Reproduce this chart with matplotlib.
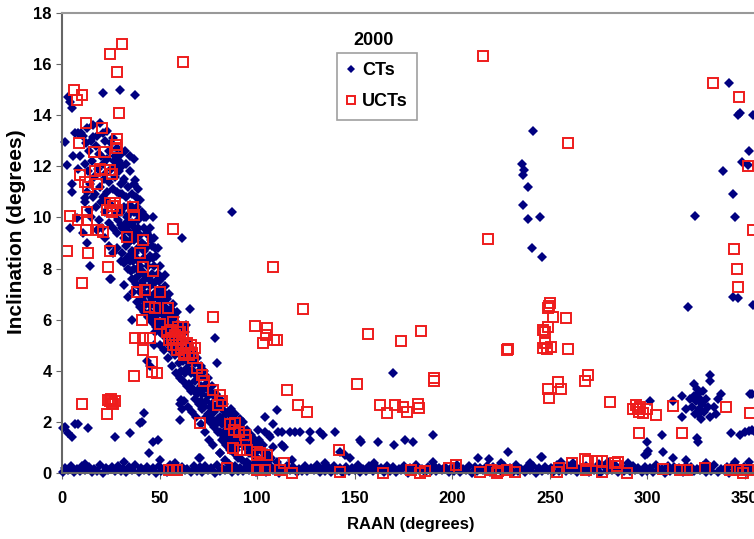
import numpy as np
import matplotlib
matplotlib.use('Agg')
import matplotlib.pyplot as plt

plt.rcParams['font.family'] = ['Liberation Sans', 'DejaVu Sans']
plt.rcParams['font.weight'] = 'bold'

# CTs: the diagonal band (RAAN, inclination)
ct_band = [
    (11, 13.2), (12.5, 12.9), (13, 13.5), (14, 12.6), (15, 13.0), (16, 13.15), (16, 13.6), (17.5, 12.8),
    (18, 13.2), (19.5, 13.7), (19, 12.5), (12, 12.1), (13.5, 11.8), (14.5, 11.3), (15.5, 12.2), (16.5, 11.6),
    (17, 10.9), (18.5, 11.9), (19.5, 11.2), (20, 12.4), (12, 10.6), (13, 11.0), (14, 10.3), (15, 10.0),
    (16, 10.8), (17.5, 10.4), (18, 9.5), (19, 9.9), (20, 10.6), (14.4, 8.1), (11, 9.4), (13, 9.0),
    (21, 13.3), (22, 13.0), (23, 13.4), (24, 12.6), (25, 12.9), (26, 13.1), (27, 12.4), (28, 12.7),
    (29, 12.2), (30, 12.5), (21, 12.1), (22, 11.7), (23, 12.3), (24, 11.4), (25, 11.9), (26, 11.1),
    (27, 11.6), (28, 11.0), (29, 11.8), (30, 11.3), (21, 10.8), (22, 10.2), (23, 11.0), (24, 9.8),
    (25, 10.5), (26, 9.6), (27, 10.1), (28, 9.4), (29, 10.3), (30, 9.7), (22, 9.2), (24, 8.9),
    (26, 8.6), (28, 8.8), (30, 8.3), (25, 7.6), (24.6, 7.6), (21.5, 11.5), (27.5, 12.0), (29.5, 10.9),
    (23.5, 10.6), (26.5, 12.2), (20.5, 9.6), (28.5, 9.9),
    (31, 12.0), (32, 11.5), (33, 12.1), (34, 11.2), (35, 11.8), (36, 10.9), (37, 12.3), (37.4, 11.45),
    (38, 10.8), (39, 11.1), (40, 10.7), (31, 10.9), (32, 10.4), (33, 10.8), (34, 10.1), (35, 10.5),
    (36, 9.8), (37, 10.2), (38, 9.5), (39, 9.9), (40, 9.3), (31, 9.6), (32, 9.2), (33, 9.8),
    (34, 9.0), (35, 9.4), (36, 8.7), (37, 9.1), (38, 8.4), (39, 8.8), (40, 8.1), (31, 8.6),
    (32, 8.2), (33, 8.9), (34, 8.0), (35, 8.3), (36, 7.6), (37, 8.0), (38, 7.4), (39, 7.7),
    (40, 7.1), (32, 7.35), (34, 6.9), (35.8, 6.0), (36.5, 7.1), (38.5, 6.7), (40, 6.5), (33.5, 10.0),
    (34.5, 8.5), (35.5, 9.1), (36.5, 10.3), (37.5, 8.6), (38.5, 9.2), (39.5, 10.1), (30.5, 10.2), (31.5, 11.4),
    (32.5, 9.5), (33.5, 8.4), (34.5, 9.7), (35.5, 7.9), (36.5, 8.3), (37.5, 9.6), (38.5, 8.0), (39.5, 7.3),
    (32.5, 12.6), (35, 12.4), (36.2, 9.3), (37.2, 7.6), (38.2, 10.4), (39.2, 8.3), (36.8, 11.3), (38.8, 9.6),
    (41, 10.2), (42, 9.6), (43, 10.0), (44, 9.3), (45, 9.6), (46, 8.9), (46.6, 10.0), (47, 9.2),
    (48, 8.5), (49, 8.8), (50, 8.1), (41, 9.0), (42, 8.4), (43, 8.8), (44, 8.1), (45, 8.5),
    (46, 7.8), (47, 8.1), (48, 7.5), (49, 7.8), (50, 7.2), (41, 7.9), (42, 7.3), (43, 7.7),
    (44, 7.0), (45, 7.3), (46, 6.8), (47, 7.0), (48, 6.5), (49, 6.8), (50, 6.3), (41, 6.8),
    (42, 6.3), (43, 6.6), (44, 6.1), (45, 6.3), (46, 5.9), (47, 6.1), (48, 5.7), (49, 5.9),
    (50, 5.5), (42.5, 8.9), (44.5, 7.6), (46.5, 8.4), (48.5, 7.1), (45.5, 6.6), (47.5, 5.5), (49.5, 6.4),
    (41.5, 7.5), (43.5, 9.4), (43.5, 4.4), (45, 4.2), (47, 5.0), (50, 5.0), (41.8, 8.7), (42.8, 7.0),
    (43.8, 8.3), (44.8, 6.6), (45.8, 9.1), (46.8, 7.4), (47.8, 8.8), (48.8, 6.2), (49.8, 7.5), (42.2, 10.0),
    (51, 7.6), (52, 7.1), (52.8, 7.75), (53, 7.3), (54, 6.8), (55, 7.0), (56, 6.4), (57, 6.6),
    (58, 6.1), (59, 6.3), (60, 5.8), (51, 6.7), (52, 6.2), (53, 6.5), (54, 5.9), (55, 6.1),
    (56, 5.6), (57, 5.8), (58, 5.3), (59, 5.5), (60, 5.0), (51, 5.8), (52, 5.4), (53, 5.6),
    (54, 5.1), (55, 5.3), (56, 4.8), (57, 5.0), (58, 4.6), (59, 4.8), (60, 4.3), (52.5, 4.8),
    (54.5, 4.5), (56.5, 4.2), (58.5, 3.9), (55.5, 5.9), (57.5, 6.2), (59.5, 5.2), (61.5, 9.2), (60.5, 3.7),
    (51.5, 7.0), (52.5, 6.0), (53.5, 6.9), (54.5, 6.3), (55.5, 5.0), (56.5, 6.0), (57.5, 5.3), (58.5, 5.7),
    (61, 5.6), (62, 5.2), (63, 5.5), (64, 4.9), (65, 5.1), (65.6, 6.4), (66, 4.6), (67, 4.8),
    (68, 4.3), (69, 4.5), (70, 4.0), (61, 4.7), (62, 4.4), (63, 4.6), (64, 4.1), (65, 4.3),
    (66, 3.9), (67, 4.0), (68, 3.6), (69, 3.8), (70, 3.3), (61, 4.0), (62, 3.6), (63, 3.9),
    (64, 3.4), (65, 3.5), (66, 3.2), (67, 3.3), (68, 2.9), (69, 3.1), (70, 2.7), (62.5, 2.8),
    (64.5, 2.6), (66.5, 2.4), (68.5, 2.2), (61.5, 2.5), (63.5, 5.8),
    (71, 4.2), (72, 3.8), (73, 4.0), (74, 3.5), (75, 3.7), (76, 3.2), (77, 3.4), (78, 3.0),
    (79, 3.1), (80, 2.7), (71, 3.4), (72, 3.1), (73, 3.3), (74, 2.8), (75, 3.0), (76, 2.6),
    (77, 2.7), (78, 2.4), (79, 2.5), (80, 2.1), (71, 2.8), (72, 2.5), (73, 2.6), (74, 2.2),
    (75, 2.3), (76, 2.0), (77, 2.1), (78, 1.8), (79, 1.9), (80, 1.6), (78.4, 5.3), (79.4, 4.3),
    (73.5, 1.6), (75.5, 1.3), (77.5, 1.1), (71.5, 1.9),
    (81, 2.9), (82, 2.5), (83, 2.7), (84, 2.3), (85, 2.4), (86, 2.0), (87, 2.2), (88, 1.8),
    (89, 2.0), (90, 1.6), (81, 2.2), (82, 1.9), (83, 2.0), (84, 1.7), (85, 1.8), (86, 1.5),
    (87, 1.6), (88, 1.3), (89, 1.4), (90, 1.1), (81, 1.6), (82, 1.3), (83, 1.4), (84, 1.1),
    (85, 1.2), (86, 0.9), (87, 1.0), (88, 0.8), (89, 0.9), (90, 0.6), (81, 0.78), (83.5, 0.5),
    (85.5, 0.35), (88.5, 2.3), (86.5, 2.5),
    (91, 2.1), (92, 1.8), (93, 2.0), (94, 1.6), (95, 1.7), (96, 1.4), (97, 1.5), (98, 1.2),
    (99, 1.3), (100, 1.0), (91, 1.4), (92, 1.2), (93, 1.3), (94, 1.0), (95, 1.1), (96, 0.8),
    (97, 0.9), (98, 0.7), (99, 0.8), (100, 0.6), (101, 1.3), (102, 0.9), (103, 1.1), (104, 0.7),
    (105, 0.8), (106, 0.5), (107, 0.6), (101, 0.5), (103, 0.4), (105, 0.3), (92.5, 0.5), (94.5, 0.4),
    (96.5, 0.3), (98.5, 0.35), (100.5, 1.7), (104, 1.6), (106.5, 1.4), (108, 1.0),
]

# CTs: the near-equatorial floor, two rows
floor1_x = [0.4, 3.1, 6.3, 9.0, 11.8, 15.2, 18.1, 21.0, 23.7, 27.1, 30.2, 32.9, 36.0, 39.3, 42.1, 44.8,
            48.2, 51.0, 53.9, 57.1, 60.0, 62.8, 66.1, 69.2, 71.9, 75.0, 78.3, 81.1, 83.8, 87.2, 90.1, 92.9,
            96.0, 99.3, 102.0, 104.8, 108.1, 111.2, 113.9, 117.0, 120.3, 123.1, 125.8, 129.2, 132.0, 134.9,
            138.1, 141.0, 143.8, 147.2, 150.1, 152.9, 156.0, 159.3, 162.1, 164.8, 168.2, 171.0, 173.9, 177.1,
            180.0, 182.8, 186.1, 189.2, 191.9, 195.0, 198.3, 201.1, 203.8, 207.2, 210.1, 212.9, 216.0, 219.3,
            222.1, 224.8, 228.2, 231.0, 233.9, 237.1, 240.0, 242.8, 246.1, 249.2, 251.9, 255.0, 258.3, 261.1,
            263.8, 267.2, 270.1, 272.9, 276.0, 279.3, 282.1, 284.8, 288.2, 291.0, 293.9, 297.1, 300.0, 302.8,
            306.1, 309.2, 311.9, 315.0, 318.3, 321.1, 323.8, 327.2, 330.1, 332.9, 336.0, 339.3, 342.1, 344.8,
            348.2, 351.0, 353.9]
floor1_y = [0.05, 0.10, 0.03, 0.08, 0.12, 0.04, 0.09, 0.02, 0.11, 0.06,
            0.08, 0.03, 0.10, 0.05, 0.12, 0.07, 0.02, 0.09, 0.04, 0.11,
            0.06, 0.10, 0.03, 0.08, 0.05, 0.12, 0.02, 0.07, 0.10, 0.04,
            0.09, 0.06, 0.11, 0.03, 0.08, 0.05, 0.10, 0.02, 0.07, 0.12,
            0.04, 0.09, 0.06, 0.11, 0.03, 0.08, 0.05, 0.10, 0.02, 0.07,
            0.12, 0.04, 0.09, 0.06, 0.11, 0.03, 0.08, 0.05, 0.10, 0.02,
            0.07, 0.12, 0.04, 0.09, 0.06, 0.11, 0.03, 0.08, 0.05, 0.10,
            0.02, 0.07, 0.12, 0.04, 0.09, 0.06, 0.11, 0.03, 0.08, 0.05,
            0.10, 0.02, 0.07, 0.12, 0.04, 0.09, 0.06, 0.11, 0.03, 0.08,
            0.05, 0.10, 0.02, 0.07, 0.12, 0.04, 0.09, 0.06, 0.11, 0.03,
            0.08, 0.05, 0.10, 0.02, 0.07, 0.12, 0.04, 0.09, 0.06, 0.11,
            0.03, 0.08, 0.05, 0.10, 0.02, 0.07, 0.12, 0.04, 0.09]
floor2_x = [1.7, 4.6, 7.5, 10.4, 13.6, 16.5, 19.6, 22.4, 25.5, 28.6,
            31.5, 34.4, 37.6, 40.7, 43.5, 46.4, 49.6, 52.5, 55.4, 58.6,
            61.5, 64.3, 67.6, 70.5, 73.4, 76.6, 79.7, 82.5, 85.4, 88.6,
            91.5, 94.4, 97.6, 100.7, 103.5, 106.4, 109.6, 112.5, 115.4, 118.6,
            121.5, 124.4, 127.6, 130.7, 133.5, 136.4, 139.6, 142.5, 145.4, 148.6,
            151.5, 154.4, 157.6, 160.7, 163.5, 166.4, 169.6, 172.5, 175.4, 178.6,
            181.5, 184.4, 187.6, 190.7, 193.5, 196.4, 199.6, 202.5, 205.4, 208.6,
            211.5, 214.4, 217.6, 220.7, 223.5, 226.4, 229.6, 232.5, 235.4, 238.6,
            241.5, 244.4, 247.6, 250.7, 253.5, 256.4, 259.6, 262.5, 265.4, 268.6,
            271.5, 274.4, 277.6, 280.7, 283.5, 286.4, 289.6, 292.5, 295.4, 298.6,
            301.5, 304.4, 307.6, 310.7, 313.5, 316.4, 319.6, 322.5, 325.4, 328.6,
            331.5, 334.4, 337.6, 340.7, 343.5, 346.4, 349.6, 352.5]
floor2_y = [0.20, 0.26, 0.17, 0.29, 0.22, 0.15, 0.31, 0.19, 0.24, 0.28,
            0.16, 0.23, 0.30, 0.18, 0.25, 0.21, 0.27, 0.15, 0.32, 0.20,
            0.24, 0.17, 0.29, 0.22, 0.26, 0.19, 0.31, 0.16, 0.23, 0.28,
            0.21, 0.25, 0.18, 0.30, 0.15, 0.27, 0.22, 0.19, 0.26, 0.24,
            0.17, 0.29, 0.20, 0.32, 0.16, 0.23, 0.28, 0.21, 0.25, 0.18,
            0.30, 0.15, 0.27, 0.22, 0.19, 0.26, 0.24, 0.17, 0.29, 0.20,
            0.32, 0.16, 0.23, 0.28, 0.21, 0.25, 0.18, 0.30, 0.15, 0.27,
            0.22, 0.19, 0.26, 0.24, 0.17, 0.29, 0.20, 0.32, 0.16, 0.23,
            0.28, 0.21, 0.25, 0.18, 0.30, 0.15, 0.27, 0.22, 0.19, 0.26,
            0.24, 0.17, 0.29, 0.20, 0.32, 0.16, 0.23, 0.28, 0.21, 0.25,
            0.18, 0.30, 0.15, 0.27, 0.22, 0.19, 0.26, 0.24, 0.17, 0.29,
            0.20, 0.32, 0.16, 0.23, 0.28, 0.21, 0.25, 0.18]

# CTs: everything else
ct_other = [
    (12, 0.35), (32, 0.43), (50, 0.5), (58, 0.4), (70, 0.6), (81, 0.78), (95, 0.42), (110, 0.45),
    (118, 0.5), (135, 0.4), (142.5, 0.82), (145, 0.7), (147.6, 0.6), (160, 0.38), (190, 0.42), (213, 0.6),
    (219, 0.55), (225, 0.4), (228.6, 0.82), (240, 0.38), (245.5, 0.63), (256, 0.45), (262, 0.4), (275, 0.35),
    (280, 0.45), (290, 0.4), (300, 0.75), (308, 0.82), (313, 0.58), (320, 0.5), (330, 0.4), (345, 0.45),
    (352, 0.45),
    (0.6, 1.75), (1.5, 1.8), (3, 1.55), (5, 1.4), (6.7, 1.9), (8.3, 1.9), (13.5, 1.75), (27, 1.4),
    (35, 1.55), (40, 1.95), (41, 2.0), (42, 2.35), (46.7, 1.2), (49, 1.3), (44.6, 0.78), (60.5, 2.07),
    (60.5, 2.7), (61, 2.85), (70.7, 0.6),
    (1.5, 12.95), (2.5, 12.05), (3, 14.7), (4, 14.5), (5, 14.3), (21, 14.87), (29.7, 15.0), (37.4, 14.8),
    (5.7, 12.4), (5, 11.3), (5, 11.0), (6.7, 13.3), (8.3, 13.3), (10, 13.3), (8.3, 11.9), (7.7, 9.97),
    (11.8, 10.75), (9, 12.4), (4, 9.6), (87, 10.2),
    (110, 2.45), (110.7, 1.6), (113, 1.6), (117, 1.6), (119.5, 1.6), (122, 1.6), (127, 1.6), (132, 1.6),
    (134, 1.5), (140, 1.6), (127, 1.3), (114, 1.0), (113, 1.1), (152.7, 1.3), (153.5, 1.2), (162, 1.2),
    (170, 1.1), (176, 1.3), (180, 1.2), (190, 1.5), (169.7, 3.9), (106, 1.5), (108, 1.9), (104, 2.2),
    (246, 0.64),
    (241.5, 13.4), (236, 12.1), (236.8, 11.85), (236.4, 11.65), (239, 11.2), (236.4, 10.5), (239, 9.95),
    (245, 10.0), (241, 8.8), (246, 8.46),
    (342, 15.25), (346.5, 14.0), (347.5, 14.1), (354, 14.0), (352, 12.6), (348.5, 12.17), (351.6, 12.05),
    (338.8, 11.8), (344, 10.9), (345, 10.0), (324.4, 10.05), (321, 6.5), (344, 6.9), (346.5, 6.85),
    (354, 6.57),
    (323, 2.6), (324, 3.0), (325, 2.8), (326, 3.1), (326.5, 2.5), (327, 2.9), (328, 2.7), (328.5, 3.2),
    (329, 2.4), (330, 2.9), (331, 2.6), (332, 2.2), (322, 2.9), (320, 2.5), (318, 2.2), (334, 2.6),
    (335, 2.3), (336, 2.9), (326, 2.3), (325.5, 3.3), (324.5, 2.3), (327.5, 2.1), (332, 3.83), (332, 3.6),
    (324, 3.5), (318, 3.0), (338, 3.1), (301.4, 2.8), (313, 2.8), (300, 1.2), (299, 0.7), (300.5, 0.85),
    (307.5, 1.5), (325.5, 1.37), (326, 1.2), (343, 1.57), (347.5, 1.5), (350, 1.6), (352, 1.65),
    (353.5, 1.7), (355, 1.6), (353.7, 3.1), (352.6, 3.1),
]

# UCTs
uct = [
    (30.6, 16.8), (24.6, 16.4), (28.3, 15.7), (62, 16.1), (6.2, 15.0), (10.1, 14.8), (7.7, 14.6), (29.2, 14.1),
    (12.3, 13.7), (20.4, 13.5), (8.8, 12.9), (28, 13.05), (27.5, 12.85), (16.5, 12.55), (22, 12.55), (28.2, 12.7),
    (24.6, 11.85), (17, 11.8), (19.5, 11.9), (22, 11.85), (9.2, 11.65), (11.8, 11.4), (13.4, 11.2), (18, 11.3),
    (25.6, 11.7), (24.6, 10.55), (27, 10.55), (23, 10.3), (25.5, 10.2), (28, 10.3), (26, 10.45), (36.4, 10.4),
    (37, 10.1), (4, 10.05), (8.3, 9.9), (12.8, 10.2), (12.8, 9.9), (12.3, 9.5), (18.5, 9.5), (21, 9.45),
    (57, 9.55), (33.3, 9.25), (41.5, 9.1), (2.5, 8.7), (13.4, 8.6), (24.6, 8.7), (40, 8.6),
    (23.6, 8.05), (10.1, 7.45), (41.5, 8.05), (46.5, 7.9), (38.3, 7.1), (42.5, 7.15), (50.3, 7.1), (44.7, 6.5),
    (47.6, 6.45), (54.5, 6.45), (41, 6.0), (50.3, 5.85), (57, 5.9), (62, 5.7), (77.5, 6.1), (37.4, 5.3),
    (41.6, 5.3), (45, 5.3),
    (54, 5.5), (55, 5.2), (56, 5.6), (57, 5.0), (58, 5.4), (59, 4.8), (60, 5.2), (61, 4.9),
    (62, 5.3), (63, 4.7), (64, 5.1), (65, 4.6), (66, 5.0), (67, 4.5), (68, 4.9), (58.5, 5.0),
    (60.5, 5.5), (62.5, 4.6), (64.5, 4.9), (56.5, 5.3), (66.5, 4.7), (59.5, 5.7),
    (41.6, 4.8), (46, 4.35), (46, 3.95), (48.6, 3.9), (37, 3.8), (69, 4.1), (71.7, 3.85), (73, 3.6),
    (77.5, 3.25), (81, 3.05), (82, 2.8), (80, 2.66), (70.7, 1.95), (86, 1.9), (88.7, 1.95), (88, 1.7),
    (90.5, 1.6), (93.8, 1.5), (94.5, 1.3), (87.7, 0.98), (91, 0.9), (94.8, 0.9), (84.5, 0.2), (55, 0.12),
    (57, 0.12), (59, 0.12), (100, 0.82), (100, 0.12), (10.1, 2.7), (23.6, 2.85), (24.8, 2.8), (25.5, 2.75),
    (26.3, 2.7), (27.2, 2.8), (25, 2.9), (23, 2.3),
    (108.3, 8.05), (123.5, 6.4), (99, 5.75), (105, 5.67), (104.5, 5.4), (103, 5.1), (108.7, 5.2), (110, 5.2),
    (157, 5.44), (173.8, 5.15), (184, 5.55), (190.7, 3.6), (190.8, 3.7), (151, 3.5), (115.3, 3.25), (121, 2.65),
    (125.6, 2.4), (163, 2.66), (166.6, 2.35), (170.7, 2.66), (174.8, 2.6), (176.8, 2.4), (182.5, 2.7),
    (182.8, 2.55), (228, 4.8),
    (100, 0.7), (101.5, 0.8), (105, 0.72), (100.5, 0.1), (104, 0.1), (111.7, 0.12), (114, 0.4), (118, 0.0),
    (142, 0.9), (142.5, 0.05), (164.5, 0.0), (179, 0.12), (183.5, 0.0), (186, 0.07), (198.4, 0.2), (202, 0.3),
    (214.2, 0.03), (219.9, 0.1), (223, 0.0), (223.5, 0.08),
    (215.8, 16.3), (218.4, 9.15), (259.4, 12.9),
    (250, 6.65), (249, 6.45), (249.5, 6.55), (251.7, 6.1), (258.3, 6.06), (249, 5.7), (246.5, 5.6), (247.5, 5.5),
    (228.6, 4.85), (246.5, 4.9), (248.5, 4.85), (250.6, 4.95), (259.4, 4.85), (247.6, 5.1), (254, 3.55),
    (256, 3.3), (249, 3.3), (249.6, 2.95), (268, 3.6), (269.6, 3.83), (281, 2.78),
    (292.7, 2.5), (294, 2.66), (295.5, 2.4), (296.5, 2.6), (297.8, 2.35), (295, 2.5), (299.8, 2.5), (304.5, 2.27),
    (296, 1.56), (313, 2.62), (317.8, 1.56), (340.3, 2.58), (352.6, 2.35),
    (228, 0.1), (232, 0.04), (253.7, 0.04), (255, 0.2), (261.4, 0.39), (268, 0.55), (269.6, 0.47), (274, 0.47),
    (276.8, 0.47), (268.5, 0.1), (277, 0.05), (283.4, 0.39), (284.5, 0.27), (285, 0.43), (289.6, 0.0),
    (308, 0.16), (316.8, 0.12), (320.3, 0.12), (329.6, 0.2), (342.4, 0.12), (346, 0.12), (349, 0.0),
    (351.6, 0.12),
    (333.7, 15.25), (347, 14.7), (351.6, 12.0), (354, 9.5), (344.4, 8.76), (346, 7.98), (346.5, 7.28),
]

ct_x = np.concatenate([np.array(ct_band)[:, 0], floor1_x, floor2_x, np.array(ct_other)[:, 0]])
ct_y = np.concatenate([np.array(ct_band)[:, 1], floor1_y, floor2_y, np.array(ct_other)[:, 1]])
uct_x, uct_y = np.array(uct).T

fig = plt.figure(figsize=(7.54, 5.39), dpi=100)
ax = fig.add_axes([0.0822, 0.1224, 0.9178, 0.8535])

ax.plot(ct_x, ct_y, 'D', color='#000080', ms=4.8, mew=0, label='CTs', clip_on=False)
ax.plot(uct_x, uct_y, 's', mfc='none', mec='#ee1c1c', ms=7.5, mew=1.4, label='UCTs', clip_on=False)

ax.set_xlim(0, 354.7)
ax.set_ylim(0, 18)
ax.set_xticks(np.arange(0, 351, 50))
ax.set_yticks(np.arange(0, 19, 2))
ax.tick_params(labelsize=12, length=4, color='#666666')
ax.tick_params(axis='x', pad=9)
for s in ['left', 'bottom']:
    ax.spines[s].set_color('#666666')
    ax.spines[s].set_linewidth(1.5)
ax.spines['top'].set_color('#999999')
ax.spines['top'].set_linewidth(1.5)
ax.spines['right'].set_visible(False)

ax.set_xlabel('RAAN (degrees)', fontsize=12, fontweight='bold')
ax.set_ylabel('Inclination (degrees)', fontsize=15, fontweight='bold')
ax.xaxis.set_label_coords(0.504, -0.095)
ax.yaxis.set_label_coords(-0.052, 0.525)

ax.text(0.450, 0.941, '2000', transform=ax.transAxes, ha='center', va='center', fontsize=13, fontweight='bold')
leg = ax.legend(loc='upper left', bbox_to_anchor=(0.397, 0.913), borderaxespad=0, fancybox=False,
                edgecolor='#888888', fontsize=13, handletextpad=0.3, handlelength=0.6, borderpad=0.5,
                labelspacing=0.8, markerscale=0.85)
leg.get_frame().set_linewidth(1.2)

fig.savefig('out.png', dpi=100)
